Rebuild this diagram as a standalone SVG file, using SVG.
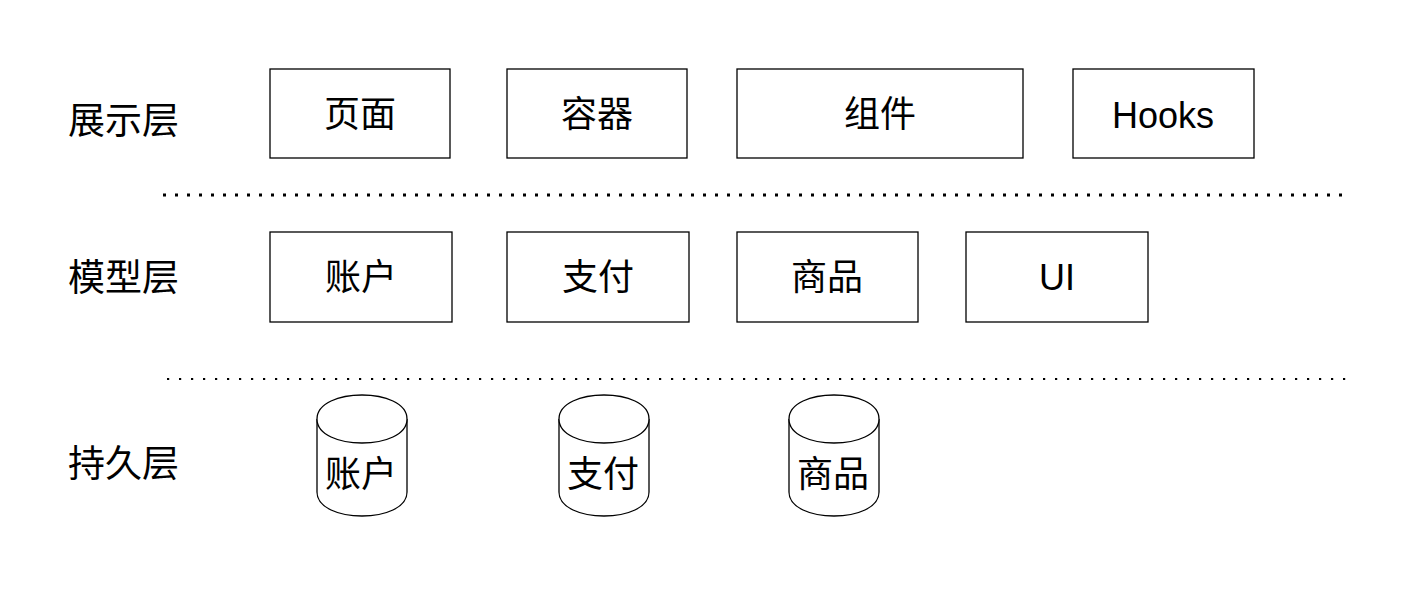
<svg xmlns="http://www.w3.org/2000/svg" width="1412" height="608" viewBox="0 0 1412 608">
<style>
.box{fill:#fff;stroke:#000;stroke-width:1.3}
.t{font-family:"Liberation Sans","Noto Sans CJK SC",sans-serif;font-size:36px;fill:#000;text-anchor:middle;dominant-baseline:central}
.lbl{font-family:"Liberation Sans","Noto Sans CJK SC",sans-serif;font-size:37px;fill:#000;text-anchor:start;dominant-baseline:central}
.sep{stroke:#000;fill:none}
</style>
<rect width="1412" height="608" fill="#fff"/>
<g id="labels">
<text class="lbl" x="68" y="121">展示层</text>
<text class="lbl" x="68" y="278">模型层</text>
<text class="lbl" x="68" y="464">持久层</text>
</g>
<g id="separators">
<line class="sep" x1="163" y1="195" x2="1346" y2="195" stroke-width="3" stroke-dasharray="3 9"/>
<line class="sep" x1="167" y1="379" x2="1348" y2="379" stroke-width="2.2" stroke-dasharray="2.2 9.8"/>
</g>
<g id="page"><rect class="box" x="270" y="69" width="180" height="89"/><text class="t" x="360" y="114">页面</text></g>
<g id="container"><rect class="box" x="507" y="69" width="180" height="89"/><text class="t" x="597" y="114">容器</text></g>
<g id="component"><rect class="box" x="737" y="69" width="286" height="89"/><text class="t" x="880" y="114">组件</text></g>
<g id="hooks"><rect class="box" x="1073" y="69" width="181" height="89"/><text class="t" x="1163" y="115">Hooks</text></g>
<g id="m-account"><rect class="box" x="270" y="232" width="182" height="90"/><text class="t" x="361" y="277">账户</text></g>
<g id="m-pay"><rect class="box" x="507" y="232" width="182" height="90"/><text class="t" x="598" y="277">支付</text></g>
<g id="m-goods"><rect class="box" x="737" y="232" width="181" height="90"/><text class="t" x="827" y="277">商品</text></g>
<g id="m-ui"><rect class="box" x="966" y="232" width="182" height="90"/><text class="t" x="1057" y="277">UI</text></g>
<g id="db-account">
<path class="box" d="M317,419 C317,387 407,387 407,419 L407,492 C407,524 317,524 317,492 Z"/>
<path class="box" d="M317,419 C317,451 407,451 407,419" fill="none"/>
<text class="t" x="361" y="474">账户</text>
</g>
<g id="db-pay">
<path class="box" d="M559,419 C559,387 649,387 649,419 L649,492 C649,524 559,524 559,492 Z"/>
<path class="box" d="M559,419 C559,451 649,451 649,419" fill="none"/>
<text class="t" x="603" y="474">支付</text>
</g>
<g id="db-goods">
<path class="box" d="M789,419 C789,387 879,387 879,419 L879,492 C879,524 789,524 789,492 Z"/>
<path class="box" d="M789,419 C789,451 879,451 879,419" fill="none"/>
<text class="t" x="833" y="474">商品</text>
</g>
</svg>
